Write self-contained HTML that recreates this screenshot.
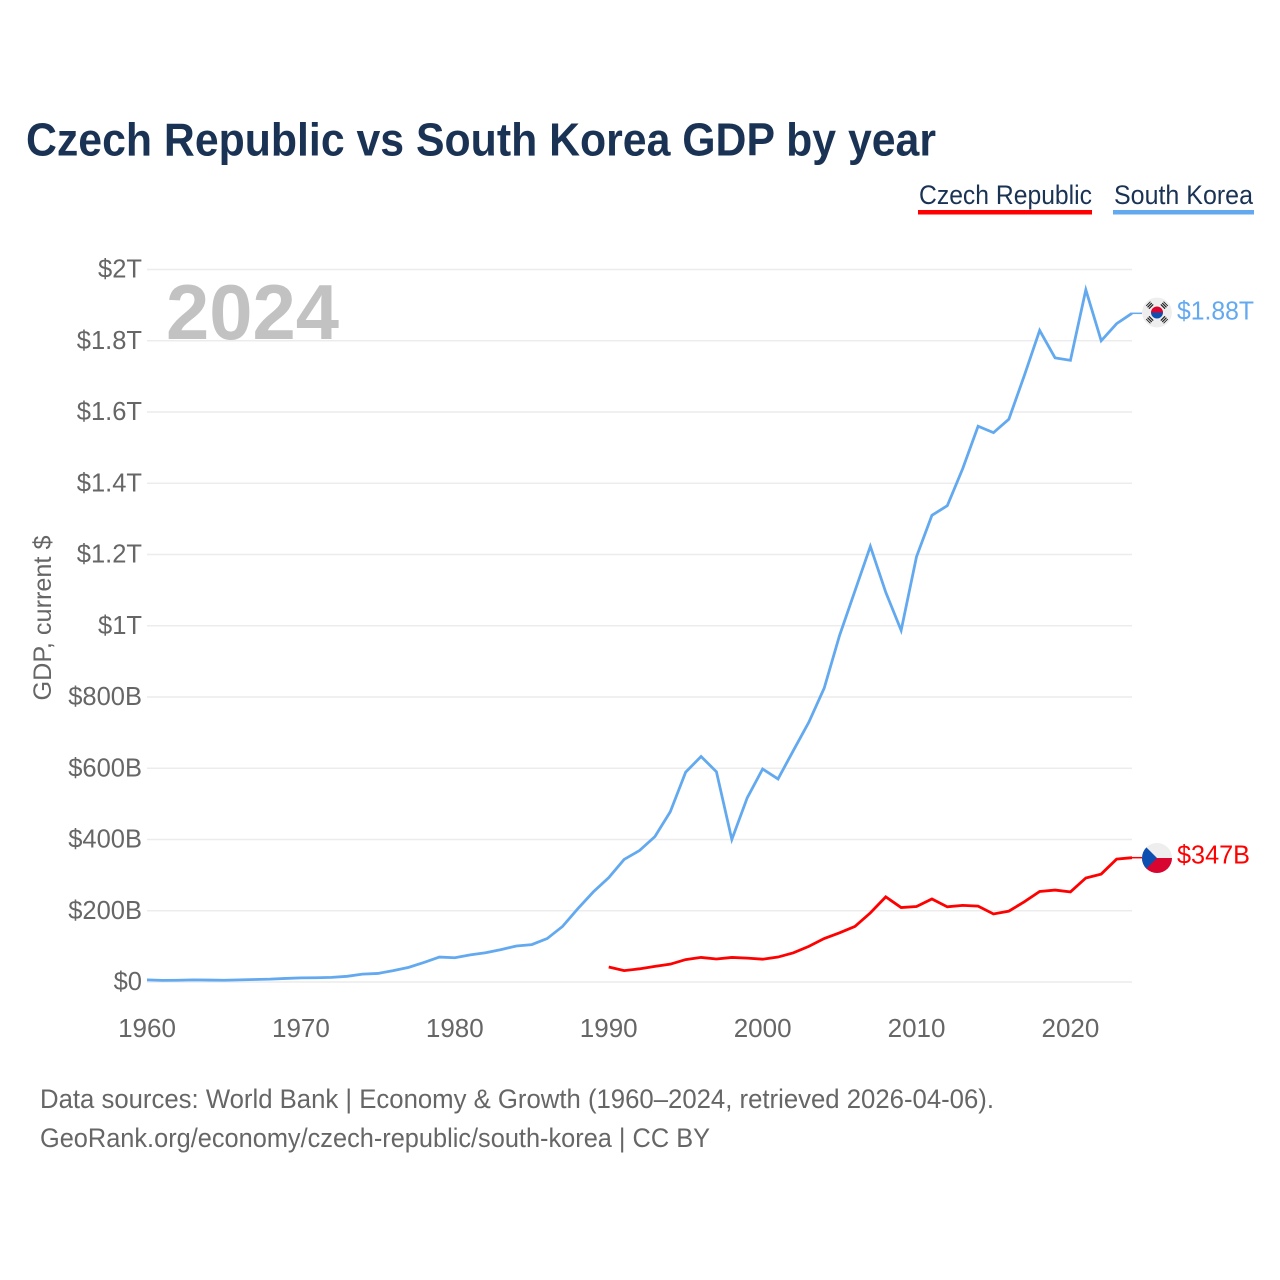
<!DOCTYPE html>
<html lang="en">
<head>
<meta charset="utf-8">
<title>Czech Republic vs South Korea GDP by year</title>
<style>
html,body{margin:0;padding:0;background:#fff;width:1280px;height:1280px;overflow:hidden}
svg{display:block;font-family:"Liberation Sans",sans-serif}
</style>
</head>
<body>
<svg id="chart" width="1280" height="1280" viewBox="0 0 1280 1280" xmlns="http://www.w3.org/2000/svg">
  <defs>
    <clipPath id="kr-clip"><circle cx="1157" cy="312.5" r="15"/></clipPath>
    <clipPath id="cz-clip"><circle cx="1157" cy="858" r="15"/></clipPath>
  </defs>
  <text x="26" y="155.5" font-size="46" font-weight="700" fill="#1a3354" textLength="910" lengthAdjust="spacingAndGlyphs">Czech Republic vs South Korea GDP by year</text>

  <g>
    <g>
      <text x="919" y="204" font-size="26.5" fill="#1a3354" textLength="173" lengthAdjust="spacingAndGlyphs">Czech Republic</text>
      <rect x="918" y="210" width="174" height="4.5" fill="#ff0000"/>
    </g>
    <g>
      <text x="1114" y="204" font-size="26.5" fill="#1a3354" textLength="139" lengthAdjust="spacingAndGlyphs">South Korea</text>
      <rect x="1113" y="210" width="141" height="4.5" fill="#63a9ef"/>
    </g>
  </g>

  <g id="grid"></g>
  <text x="166" y="339" font-size="78" font-weight="700" fill="#c2c2c2" textLength="173" lengthAdjust="spacingAndGlyphs">2024</text>
  <g id="yticks"></g>
  <g id="xticks"></g>
  <text transform="translate(51 618) rotate(-90)" text-anchor="middle" font-size="25" fill="#666666" textLength="165" lengthAdjust="spacingAndGlyphs">GDP, current $</text>
  <g id="series"></g>

  <g clip-path="url(#kr-clip)">
    <circle cx="1157" cy="312.5" r="15" fill="#eeeeee"/>
    <path d="M1151 312.5 a6 6 0 0 1 12 0 z" fill="#d7052f"/>
    <path d="M1151 312.5 a6 6 0 0 0 12 0 z" fill="#0d4fb0"/>
    <g stroke="#222" stroke-width="6" stroke-dasharray="1.2 0.8">
      <line x1="1151.5" y1="307" x2="1148" y2="303.5"/>
      <line x1="1162.5" y1="307" x2="1166" y2="303.5"/>
      <line x1="1151.5" y1="318" x2="1148" y2="321.5"/>
      <line x1="1162.5" y1="318" x2="1166" y2="321.5"/>
    </g>
  </g>
  <text x="1177" y="319.5" font-size="25.5" fill="#63a9ef" textLength="77" lengthAdjust="spacingAndGlyphs">$1.88T</text>

  <g clip-path="url(#cz-clip)">
    <rect x="1142" y="843" width="30" height="15" fill="#eeeeee"/>
    <rect x="1142" y="858" width="30" height="15" fill="#d7052f"/>
    <path d="M1142 843 L1157 858 L1142 873 Z" fill="#0d4fb0"/>
  </g>
  <text x="1177" y="863.5" font-size="25.5" fill="#ff0000" textLength="73" lengthAdjust="spacingAndGlyphs">$347B</text>

  <text x="40" y="1108" font-size="26.5" fill="#666666" textLength="954" lengthAdjust="spacingAndGlyphs">Data sources: World Bank | Economy &amp; Growth (1960–2024, retrieved 2026-04-06).</text>
  <text x="40" y="1147" font-size="26.5" fill="#666666" textLength="670" lengthAdjust="spacingAndGlyphs">GeoRank.org/economy/czech-republic/south-korea | CC BY</text>
</svg>
<script>
const yTickValues = [0, 200, 400, 600, 800, 1000, 1200, 1400, 1600, 1800, 2000];
const yTickLabels = ["$0", "$200B", "$400B", "$600B", "$800B", "$1T", "$1.2T", "$1.4T", "$1.6T", "$1.8T", "$2T"];
const xTickValues = [1960, 1970, 1980, 1990, 2000, 2010, 2020];
const koreaStartYear = 1960;
const koreaGdp = [6, 4.5, 5, 6, 5.5, 5, 6, 7, 8, 10, 11.5, 12, 13, 16, 22, 24, 32, 41, 55, 70, 68, 76, 82, 91, 101, 105, 122, 156, 206, 253, 293, 344, 369, 408, 478, 589, 633, 590, 400, 517, 598, 570, 650, 729, 825, 973, 1098, 1223, 1094, 987, 1194, 1310, 1337, 1441, 1560, 1542, 1580, 1702, 1829, 1752, 1745, 1943, 1800, 1848, 1877];
const czechStartYear = 1990;
const czechGdp = [42, 32, 37, 44, 50, 63, 69, 64.5, 69, 67, 64, 70, 82, 100, 122, 138, 156, 194, 239, 209, 212, 233, 211, 215, 213, 191, 199, 225, 254, 258, 253, 292, 303, 345, 349];

const SVG_NS = "http://www.w3.org/2000/svg";
const plotLeft = 147, plotRight = 1132, plotBottom = 982, plotTop = 269.5;
const xDomain = [1960, 2024], yDomain = [0, 2000];
function xScale(year) {
  return plotLeft + (year - xDomain[0]) / (xDomain[1] - xDomain[0]) * (plotRight - plotLeft);
}
function yScale(value) {
  return plotBottom - (value - yDomain[0]) / (yDomain[1] - yDomain[0]) * (plotBottom - plotTop);
}
function make(tag, attrs, parent, text) {
  const el = document.createElementNS(SVG_NS, tag);
  for (const k in attrs) el.setAttribute(k, attrs[k]);
  if (text !== undefined) el.textContent = text;
  parent.appendChild(el);
  return el;
}
const gridG = document.getElementById("grid");
const yG = document.getElementById("yticks");
const xG = document.getElementById("xticks");
const seriesG = document.getElementById("series");

yTickValues.forEach(function (v, i) {
  const y = yScale(v);
  const line = make("line", {x1: plotLeft, x2: plotRight, y1: y, y2: y, stroke: "#ececec", "stroke-width": 1.5}, gridG);
  
  
  const label = make("text", {x: 142, y: y + 8, "text-anchor": "end", "font-size": 25.5, fill: "#666666"}, yG, yTickLabels[i]);
  
  
});
xTickValues.forEach(function (yr) {
  const label = make("text", {x: xScale(yr), y: 1037, "text-anchor": "middle", "font-size": 26, fill: "#666666"}, xG, String(yr));
  
  
});
function pathFor(startYear, values) {
  return values.map(function (v, i) {
    return (i ? "L" : "M") + xScale(startYear + i).toFixed(2) + " " + yScale(v).toFixed(2);
  }).join(" ");
}
const koreaLine = make("path", {d: pathFor(koreaStartYear, koreaGdp), fill: "none", stroke: "#63a9ef", "stroke-width": 2.8, "stroke-linejoin": "miter"}, seriesG);


const czechLine = make("path", {d: pathFor(czechStartYear, czechGdp), fill: "none", stroke: "#ff0000", "stroke-width": 2.8, "stroke-linejoin": "miter"}, seriesG);


const koreaLast = koreaGdp[koreaGdp.length - 1];
const czechLast = czechGdp[czechGdp.length - 1];
const koreaLeader = make("line", {x1: plotRight, x2: 1142, y1: yScale(koreaLast), y2: yScale(koreaLast), stroke: "#63a9ef", "stroke-width": 1.5}, seriesG);


const czechLeader = make("line", {x1: plotRight, x2: 1142, y1: yScale(czechLast), y2: yScale(czechLast), stroke: "#ff0000", "stroke-width": 1.5}, seriesG);


</script>
</body>
</html>
